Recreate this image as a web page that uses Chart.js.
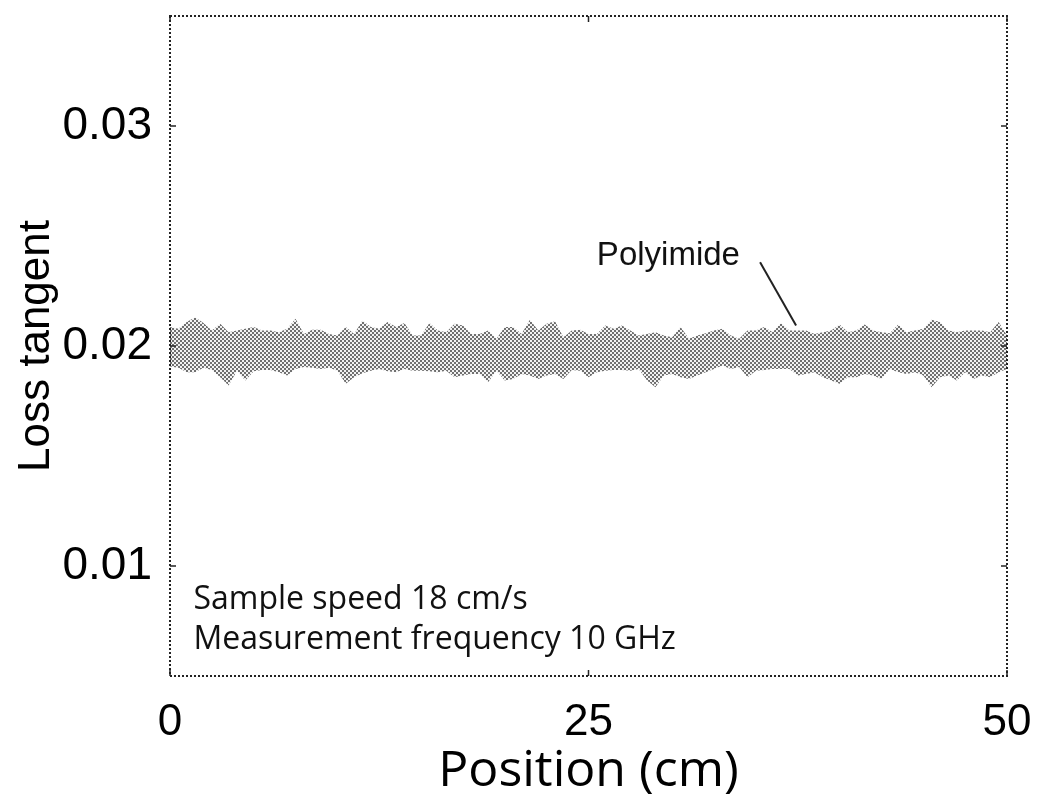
<!DOCTYPE html>
<html>
<head>
<meta charset="utf-8">
<script src="https://cdn.jsdelivr.net/npm/chart.js@4.4.1/dist/chart.umd.min.js"></script>
<style>
  html, body { margin: 0; padding: 0; background: #fff; }
  #wrap { width: 1037px; height: 802px; }
</style>
</head>
<body>
<div id="wrap"><canvas id="chart"></canvas></div>
<script>
// position along the sample, cm (0.5 cm sampling of the band edges)
const positions = Array.from({ length: 101 }, (_, i) => i * 0.5);

// upper edge of the polyimide noise band
const upperEdge = [
    0.02086, 0.02078, 0.02109, 0.02131, 0.02104, 0.02071, 0.02101, 0.02063, 0.02071, 0.02078,
    0.02086, 0.02071, 0.02071, 0.02063, 0.02078, 0.02124, 0.02055, 0.02074, 0.02074, 0.02055,
    0.02048, 0.02086, 0.02055, 0.02116, 0.02086, 0.02078, 0.02109, 0.02086, 0.02104, 0.02048,
    0.02048, 0.02104, 0.02071, 0.02063, 0.02101, 0.02093, 0.02055, 0.02055, 0.02071, 0.02033,
    0.02086, 0.02086, 0.02055, 0.02119, 0.02071, 0.02101, 0.02113, 0.02040, 0.02071, 0.02074,
    0.02055, 0.02055, 0.02093, 0.02078, 0.02093, 0.02071, 0.02048, 0.02055, 0.02063, 0.02048,
    0.02040, 0.02086, 0.02033, 0.02048, 0.02058, 0.02071, 0.02078, 0.02048, 0.02033, 0.02071,
    0.02071, 0.02086, 0.02063, 0.02104, 0.02071, 0.02071, 0.02071, 0.02055, 0.02063, 0.02071,
    0.02098, 0.02063, 0.02071, 0.02098, 0.02071, 0.02063, 0.02058, 0.02098, 0.02063, 0.02071,
    0.02078, 0.02119, 0.02109, 0.02071, 0.02063, 0.02071, 0.02071, 0.02071, 0.02063, 0.02109,
    0.02048
];

// lower edge of the polyimide noise band
const lowerEdge = [
    0.01907, 0.01901, 0.01881, 0.01881, 0.01901, 0.01891, 0.01858, 0.01820, 0.01888, 0.01843,
    0.01885, 0.01891, 0.01891, 0.01881, 0.01866, 0.01896, 0.01904, 0.01901, 0.01896, 0.01901,
    0.01888, 0.01828, 0.01858, 0.01876, 0.01888, 0.01896, 0.01885, 0.01881, 0.01896, 0.01888,
    0.01888, 0.01885, 0.01881, 0.01888, 0.01858, 0.01866, 0.01873, 0.01873, 0.01835, 0.01888,
    0.01843, 0.01850, 0.01873, 0.01866, 0.01850, 0.01866, 0.01873, 0.01850, 0.01891, 0.01888,
    0.01858, 0.01881, 0.01888, 0.01891, 0.01891, 0.01888, 0.01896, 0.01843, 0.01812, 0.01866,
    0.01873, 0.01858, 0.01850, 0.01866, 0.01881, 0.01896, 0.01911, 0.01896, 0.01904, 0.01858,
    0.01888, 0.01891, 0.01896, 0.01896, 0.01896, 0.01866, 0.01873, 0.01881, 0.01858, 0.01843,
    0.01828, 0.01858, 0.01858, 0.01873, 0.01866, 0.01850, 0.01896, 0.01881, 0.01873, 0.01881,
    0.01866, 0.01812, 0.01858, 0.01866, 0.01843, 0.01881, 0.01850, 0.01866, 0.01858, 0.01881,
    0.01896
];

const xTicks = [0, 25, 50];
const yTicks = [0.01, 0.02, 0.03];

// halftone fill like the printed figure
function halftone() {
    const c = document.createElement('canvas');
    c.width = 4; c.height = 4;
    const g = c.getContext('2d');
    g.fillStyle = '#f2f2f2';
    g.fillRect(0, 0, 4, 4);
    g.fillStyle = '#707070';
    g.fillRect(0, 0, 2, 2);
    g.fillRect(2, 2, 2, 2);
    return g.createPattern(c, 'repeat');
}

const frameAndNotes = {
    id: 'frameAndNotes',
    afterDraw(chart) {
        const { ctx, chartArea: a, scales: { x, y } } = chart;
        ctx.save();
        // dotted box
        ctx.strokeStyle = '#222';
        ctx.lineWidth = 2;
        ctx.setLineDash([2, 2]);
        ctx.strokeRect(a.left, a.top, a.right - a.left, a.bottom - a.top);
        ctx.setLineDash([]);

        // inward ticks
        ctx.lineWidth = 1.5;
        ctx.beginPath();
        yTicks.forEach(v => {
            const py = y.getPixelForValue(v);
            ctx.moveTo(a.left, py); ctx.lineTo(a.left + 6, py);
            ctx.moveTo(a.right, py); ctx.lineTo(a.right - 6, py);
        });
        xTicks.forEach(v => {
            const px = x.getPixelForValue(v);
            ctx.moveTo(px, a.bottom); ctx.lineTo(px, a.bottom - 6);
            ctx.moveTo(px, a.top); ctx.lineTo(px, a.top + 6);
        });
        ctx.stroke();

        // notes
        ctx.fillStyle = '#111';
        ctx.textAlign = 'left';
        ctx.textBaseline = 'alphabetic';
        ctx.font = '32px "Open Sans"';
        ctx.fillText('Sample speed 18 cm/s', x.getPixelForValue(1.4), y.getPixelForValue(0.00804));
        ctx.fillText('Measurement frequency 10 GHz', x.getPixelForValue(1.4), y.getPixelForValue(0.00622));

        ctx.font = '33px "Liberation Sans"';
        ctx.fillText('Polyimide', x.getPixelForValue(25.5), y.getPixelForValue(0.02367));

        ctx.lineWidth = 2;
        ctx.beginPath();
        ctx.moveTo(x.getPixelForValue(35.25), y.getPixelForValue(0.02381));
        ctx.lineTo(x.getPixelForValue(37.4), y.getPixelForValue(0.02093));
        ctx.stroke();
        ctx.restore();
    }
};

const pattern = halftone();

new Chart(document.getElementById('chart'), {
    type: 'line',
    data: {
        datasets: [{
            label: 'Polyimide upper',
            data: positions.map((p, i) => ({ x: p, y: upperEdge[i] })),
            borderWidth: 0,
            borderColor: 'rgba(0,0,0,0)',
            backgroundColor: pattern,
            fill: '+1',
            pointRadius: 0,
            tension: 0
        }, {
            label: 'Polyimide lower',
            data: positions.map((p, i) => ({ x: p, y: lowerEdge[i] })),
            borderWidth: 0,
            borderColor: 'rgba(0,0,0,0)',
            fill: false,
            pointRadius: 0,
            tension: 0
        }]
    },
    options: {
        responsive: true,
        maintainAspectRatio: false,
        animation: false,
        layout: { padding: { left: 0, right: 30, top: 16, bottom: 0 } },
        plugins: {
            legend: { display: false },
            tooltip: { enabled: false }
        },
        scales: {
            x: {
                type: 'linear',
                min: 0,
                max: 50,
                afterBuildTicks: s => { s.ticks = xTicks.map(v => ({ value: v })); },
                afterFit: s => { s.height = 126; s.paddingLeft = 0; s.paddingRight = 0; },
                grid: { display: false },
                border: { display: false },
                ticks: {
                    color: '#000',
                    padding: 12,
                    maxRotation: 0,
                    font: { family: 'Liberation Sans', size: 44 }
                },
                title: {
                    display: true,
                    text: 'Position (cm)',
                    color: '#000',
                    padding: { top: 0, bottom: 0 },
                    font: { family: 'Open Sans', size: 50 }
                }
            },
            y: {
                min: 0.005,
                max: 0.035,
                afterBuildTicks: s => { s.ticks = yTicks.map(v => ({ value: v })); },
                afterFit: s => { s.width = 170; s.paddingTop = 0; s.paddingBottom = 0; },
                grid: { display: false },
                border: { display: false },
                ticks: {
                    color: '#000',
                    padding: 10,
                    callback: v => v.toFixed(2),
                    font: { family: 'Liberation Sans', size: 46 }
                },
                title: {
                    display: true,
                    text: 'Loss tangent',
                    color: '#000',
                    padding: { top: 10, bottom: 0 },
                    font: { family: 'Liberation Sans', size: 44 }
                }
            }
        }
    },
    plugins: [frameAndNotes]
});
</script>
</body>
</html>
